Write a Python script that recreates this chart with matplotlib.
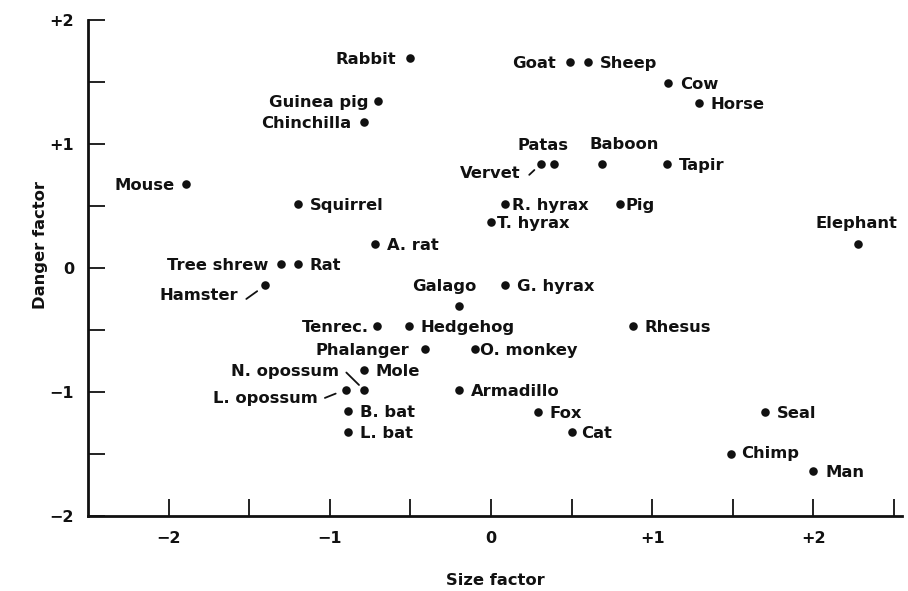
import matplotlib
matplotlib.use("Agg")
import matplotlib.pyplot as plt
import numpy as np

# size factor (x) and danger factor (y)
animals = ["Rabbit", "Guinea pig", "Chinchilla", "Mouse", "Squirrel", "A. rat",
           "Tree shrew", "Rat", "Hamster", "Galago", "Tenrec.", "Hedgehog",
           "Phalanger", "O. monkey", "Mole", "N. opossum", "L. opossum", "B. bat",
           "L. bat", "Armadillo", "Goat", "Sheep", "Cow", "Horse", "Vervet",
           "Patas", "Baboon", "Tapir", "R. hyrax", "Pig", "T. hyrax", "Elephant",
           "G. hyrax", "Rhesus", "Fox", "Cat", "Seal", "Chimp", "Man"]
size_factor = [-0.50, -0.70, -0.79, -1.89, -1.20, -0.72,
               -1.30, -1.20, -1.40, -0.20, -0.71, -0.51,
               -0.41, -0.10, -0.79, -0.79, -0.90, -0.89,
               -0.89, -0.20, 0.49, 0.60, 1.10, 1.29, 0.31,
               0.39, 0.69, 1.09, 0.09, 0.80, 0.00, 2.28,
               0.09, 0.88, 0.29, 0.50, 1.70, 1.49, 2.00]
danger_factor = [1.69, 1.35, 1.18, 0.68, 0.52, 0.19,
                 0.03, 0.03, -0.14, -0.31, -0.47, -0.47,
                 -0.65, -0.65, -0.82, -0.98, -0.98, -1.15,
                 -1.32, -0.98, 1.66, 1.66, 1.49, 1.33, 0.84,
                 0.84, 0.84, 0.84, 0.52, 0.52, 0.37, 0.19,
                 -0.14, -0.47, -1.16, -1.32, -1.16, -1.50, -1.64]

x_ticks = np.arange(-2.0, 2.51, 0.5)
y_ticks = np.arange(-2.0, 2.01, 0.5)
tick_text = {-2: "\u22122", -1: "\u22121", 0: "0", 1: "+1", 2: "+2"}

# label placement: (dx, dy) in pixels from the dot, horizontal alignment
place = {
    "Rabbit": (-14, 0, "right"), "Guinea pig": (-10, 0, "right"),
    "Chinchilla": (-12, 0, "right"), "Mouse": (-12, 0, "right"),
    "Tree shrew": (-13, 0, "right"), "Goat": (-14, 0, "right"),
    "Tenrec.": (-8, 0, "right"), "Phalanger": (-16, 0, "right"),
    "Hamster": (-27, -9, "right"), "N. opossum": (-25, 20, "right"),
    "L. opossum": (-28, -7, "right"), "Vervet": (-20, -8, "right"),
    "Galago": (-14, 21, "center"), "Patas": (-11, 20, "center"),
    "Baboon": (22, 21, "center"), "Elephant": (-2, 22, "center"),
    "Pig": (6, 0, "left"), "R. hyrax": (7, 0, "left"),
    "T. hyrax": (6, 0, "left"), "O. monkey": (5, 0, "left"),
    "Chimp": (10, 2, "left"), "Cat": (10, 0, "left"),
}
# leader lines: far end offset (pixels), gap to dot (pixels)
leaders = {
    "Hamster": ((-19, -13.6), 10),
    "N. opossum": ((-17.3, 17), 6.5),
    "L. opossum": ((-21, -8.4), 11),
    "Vervet": ((-11.7, -11), 9),
}

ink = "#111111"
plt.rcParams["font.family"] = "DejaVu Sans"
plt.rcParams["font.weight"] = "bold"

fig = plt.figure(figsize=(9.08, 5.91), dpi=100)
ax = fig.add_axes([88 / 908, 75 / 591, 814 / 908, 496 / 591])

ax.scatter(size_factor, danger_factor, s=38, color=ink, zorder=3, linewidths=0)

for name, x, y in zip(animals, size_factor, danger_factor):
    dx, dy, ha = place.get(name, (12, 0, "left"))
    ax.annotate(name, (x, y), xytext=(dx, dy), textcoords="offset pixels",
                ha=ha, va="center_baseline", fontsize=11.8, fontweight="bold",
                color=ink)
    if name in leaders:
        far, gap = leaders[name]
        ax.annotate("", (x, y), xytext=far, textcoords="offset pixels",
                    arrowprops=dict(arrowstyle="-", color=ink, lw=1.3,
                                    shrinkA=0, shrinkB=gap * 0.72))

ax.set_xlim(-2.5, 2.55)
ax.set_ylim(-2, 2)
ax.set_xticks(x_ticks)
ax.set_yticks(y_ticks)
ax.set_xticklabels([tick_text.get(int(v), "") if v == int(v) else "" for v in x_ticks])
ax.set_yticklabels([tick_text.get(int(v), "") if v == int(v) else "" for v in y_ticks])
ax.tick_params(direction="in", length=12, width=1.3, color=ink,
               labelsize=11.5, labelcolor=ink)
ax.tick_params(axis="x", pad=11)
ax.tick_params(axis="y", pad=10)
for lab in ax.get_xticklabels() + ax.get_yticklabels():
    lab.set_fontweight("bold")

for side in ["top", "right"]:
    ax.spines[side].set_visible(False)
for side in ["left", "bottom"]:
    ax.spines[side].set_linewidth(2)
    ax.spines[side].set_color(ink)

ax.set_xlabel("Size factor", fontsize=11.8, fontweight="bold", color=ink, va="center")
ax.set_ylabel("Danger factor", fontsize=11.8, fontweight="bold", color=ink, va="center")
ax.xaxis.set_label_coords(0.5, -0.131)
ax.yaxis.set_label_coords(-0.058, 0.546)

fig.savefig("out.png", dpi=100)
